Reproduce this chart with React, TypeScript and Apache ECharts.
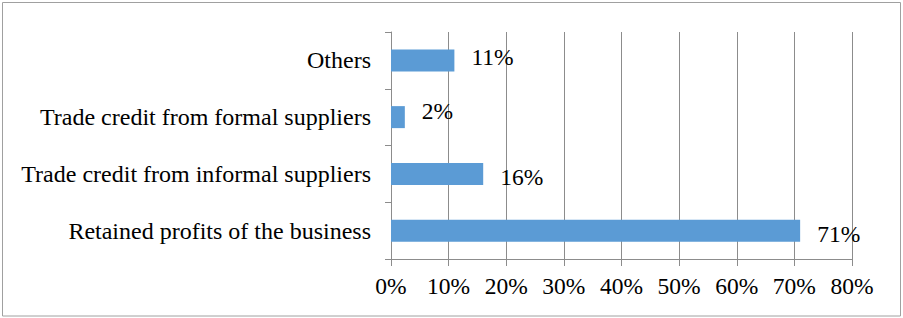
import React, { useEffect, useRef } from "react";
import * as echarts from "echarts";

const categories = [
  "Retained profits of the business",
  "Trade credit from informal suppliers",
  "Trade credit from formal suppliers",
  "Others",
];
const values = [71, 16, 2.4, 11];
const labelOffsets = [[0, 3], [0, 3], [0, -6], [0, -3]];
const xTicks = { min: 0, max: 80, interval: 10 };

const FONT = "'Liberation Serif', 'Times New Roman', serif";
const GRAY = "#8c8c8c";

export default function App() {
  const ref = useRef<HTMLDivElement>(null);
  useEffect(() => {
    document.body.style.margin = "0";
    const chart = echarts.init(ref.current!, undefined, { renderer: "svg" });
    chart.setOption({
      animation: false,
      textStyle: { fontFamily: FONT },
      grid: { left: 391, right: 51, top: 32, bottom: 59, containLabel: false },
      graphic: [
        {
          type: "rect",
          shape: { x: 2.5, y: 2.5, width: 898, height: 313.5 },
          style: { fill: "none", stroke: "#a0a0a0", lineWidth: 1 },
          silent: true,
        },
      ],
      xAxis: {
        type: "value",
        min: xTicks.min,
        max: xTicks.max,
        interval: xTicks.interval,
        axisLine: { show: true, lineStyle: { color: GRAY, width: 1 } },
        axisTick: { show: true, length: 7, lineStyle: { color: GRAY } },
        splitLine: { show: true, lineStyle: { color: GRAY, width: 1 } },
        axisLabel: {
          formatter: "{value}%",
          color: "#000",
          fontFamily: FONT,
          fontSize: 23.5,
          margin: 15,
        },
      },
      yAxis: {
        type: "category",
        data: categories,
        axisLine: { show: true, lineStyle: { color: GRAY, width: 1 } },
        axisTick: { show: true, length: 6, lineStyle: { color: GRAY } },
        axisLabel: {
          color: "#000",
          fontFamily: FONT,
          fontSize: 24,
          margin: 20,
        },
      },
      series: [
        {
          type: "bar",
          barWidth: 22,
          data: values.map((v, i) => ({
            value: v,
            label: { offset: labelOffsets[i] },
          })),
          itemStyle: { color: "#5B9BD5" },
          label: {
            show: true,
            position: "right",
            distance: 17,
            color: "#000",
            fontFamily: FONT,
            fontSize: 23.5,
            formatter: (p: any) => Math.round(p.value) + "%",
          },
        },
      ],
    });
    return () => chart.dispose();
  }, []);
  return <div ref={ref} style={{ width: 903, height: 318 }} />;
}
